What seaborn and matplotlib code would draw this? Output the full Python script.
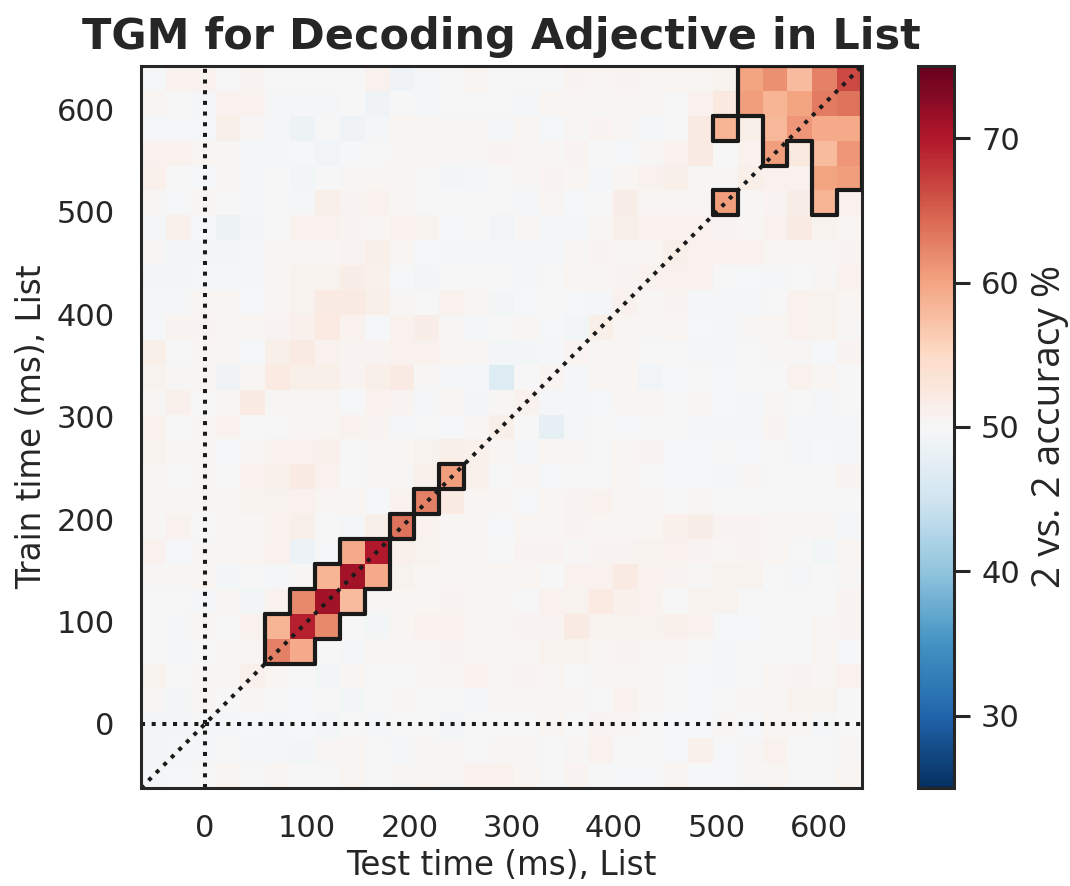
import numpy as np
import pandas as pd
import matplotlib
matplotlib.use("Agg")
import matplotlib.pyplot as plt
from matplotlib.collections import LineCollection
import seaborn as sns

# time grid (ms): outer edges of the 29 x 29 bins
t_first, t_last = -62.5, 642.5
n_bins = 29
tick_ms = [0, 100, 200, 300, 400, 500, 600]
cbar_ticks = [30, 40, 50, 60, 70]

# 2 vs. 2 accuracy (%), rows = train time from latest (top) to earliest,
# columns = test time from earliest to latest
acc_rows = [
    [49.7, 51, 51, 50, 50.7, 50, 50, 50, 50, 51, 49, 49.5, 50, 50.5, 50, 50, 50, 50.7, 50.5, 50.7, 50.5, 50.5, 50.5, 50.8, 60, 61.5, 58, 62.5, 66.5],
    [50.5, 50, 49.5, 51, 51, 49.5, 49.5, 49.5, 50, 49, 50, 49.5, 50, 50, 50, 49.5, 50.5, 50.5, 50.3, 50.5, 50.5, 50, 51, 52.5, 60.5, 58.5, 60, 63, 63.5],
    [49.7, 49.7, 49.8, 51.5, 50.3, 49.5, 48.8, 50, 49, 49.5, 50.5, 50.3, 50.3, 50.3, 49.5, 50.5, 49.7, 50.3, 50.7, 50.3, 49.5, 50, 52, 58.5, 51.5, 58.3, 61, 59.5, 59.5],
    [51, 51, 50.5, 50.3, 49.5, 49.5, 49.7, 49.2, 49.8, 50, 50.5, 50.5, 50.3, 50.3, 50.7, 50.5, 50.3, 50.7, 50, 49.7, 50.3, 51, 52, 50, 51, 60.5, 52.5, 58, 61],
    [51.3, 50, 49.7, 50.5, 49.5, 50, 49.3, 50, 50.3, 50.5, 50.5, 50, 49.3, 49.5, 50, 50.3, 50.7, 50.5, 49.6, 50.5, 51, 51.5, 50.3, 50.3, 51.5, 51, 51, 60, 60.5],
    [50.3, 49.8, 50.5, 50, 49.5, 50, 49.5, 51.5, 50.7, 51, 50.3, 50, 50, 50, 50, 49.5, 50.5, 49.7, 50, 51.7, 50.5, 50.5, 50.5, 60.5, 50.3, 50.7, 51.7, 58.5, 51],
    [49.6, 51.3, 49.7, 48.7, 49.3, 50, 51, 51, 50.6, 50.5, 51, 50.8, 49.7, 50, 49.2, 50.3, 49.5, 49.5, 50.3, 51.5, 51, 51, 51, 50.7, 50.5, 51, 52, 50.8, 50.5],
    [50.3, 49.3, 49.3, 49.3, 49.5, 50.5, 50.5, 50.5, 50.7, 51.5, 50.5, 49.8, 49.5, 49.5, 49.5, 49.5, 49.5, 50.3, 50.7, 50.5, 50.5, 51.5, 51, 51, 51, 50.5, 50.3, 50.5, 50.7],
    [49.3, 49.3, 49.5, 49.5, 49.5, 50.5, 50.8, 50.8, 51.7, 51.3, 49.8, 49.3, 50, 50, 50, 49.5, 50, 50.5, 50.5, 50.7, 51, 51, 51, 50, 49.8, 49.6, 50, 50.3, 51],
    [49.5, 49.5, 50.5, 50.5, 49.8, 50.5, 50.8, 52, 52, 51.5, 50.3, 50, 51, 50.5, 49.3, 49.7, 50, 49.7, 49.5, 51, 50.3, 50.7, 49.6, 49.5, 49.5, 50, 51, 50.8, 50.5],
    [49.7, 50.7, 50.7, 50.3, 50.5, 50.7, 51.3, 52.3, 51, 49.8, 51, 51.7, 50.3, 49.5, 50, 50.2, 49.7, 49.3, 51.5, 50.5, 50.3, 50.5, 49.7, 49.5, 50.2, 50.5, 51, 50.8, 50.3],
    [51.5, 50, 50.5, 50.5, 49.8, 51.5, 52, 51, 50.7, 50.7, 51, 51, 50.5, 50.3, 49.3, 49.3, 49.5, 50.7, 50.3, 50.5, 50, 50, 49.5, 49.5, 50, 50.3, 50.3, 49.8, 50.7],
    [50.8, 50.3, 50.5, 49, 50.5, 52.3, 51.5, 51.5, 50.7, 51.5, 52, 50.3, 49.5, 49.5, 46.5, 50, 50.7, 49.6, 50.5, 50.5, 49.2, 49.7, 50, 49.7, 50, 50, 51, 50.5, 50],
    [50.3, 51.3, 50, 50.3, 52, 50.3, 50.5, 50.5, 49.8, 51, 50.7, 49.5, 50.5, 49.3, 50.3, 51, 49.5, 49.6, 49.7, 50.3, 50.3, 50, 50.3, 49.7, 49.5, 50.3, 50, 49.6, 50],
    [51, 50, 50.5, 51, 50, 50, 50.5, 50.5, 51, 50.7, 49.5, 50, 49.7, 50.3, 51.5, 50, 47.8, 49.6, 50, 49.7, 50, 50, 49.6, 49.6, 49.6, 50.7, 49.5, 49.5, 49.5],
    [50.8, 50.3, 50.2, 49.7, 50.3, 51, 51, 51.3, 50, 50.3, 50.5, 50.8, 51.5, 51.3, 50.5, 49.5, 50.5, 50.2, 50, 50.5, 50.7, 49.8, 49.8, 50, 49.8, 50, 49.6, 49.8, 49.5],
    [50.3, 50, 50.5, 50, 51, 51.3, 52, 51, 50, 50.3, 50.3, 51.3, 60.5, 51.3, 50, 50.5, 49.7, 50, 50, 50.5, 50, 49.8, 49.7, 49.5, 50.3, 50, 50, 50, 50.7],
    [50.2, 50.5, 50.5, 50.3, 50.8, 50.8, 51, 50.5, 50.5, 49.7, 51, 62.5, 52, 50.5, 50.3, 49.8, 50.5, 50.7, 51, 50.3, 50.3, 50, 50.5, 50, 50, 50, 50, 50, 50],
    [50.3, 51, 50, 50.3, 50.3, 51, 51.5, 50, 49.5, 51.5, 63.5, 51, 50.3, 50.3, 49.7, 50.5, 50.5, 50.7, 50.5, 50.5, 50.5, 51.2, 51.7, 50.7, 50.7, 50.5, 50.3, 50.3, 49.6],
    [51, 49.8, 50.3, 50.3, 50.5, 51, 48.5, 49.8, 59.5, 70, 51.3, 50.8, 50.3, 50.3, 50, 50.7, 50.7, 50.2, 50.7, 50.7, 50.8, 51, 50.7, 50.5, 50.7, 50.5, 50, 49.3, 50.5],
    [50.3, 50.3, 50.5, 49.3, 50, 49.5, 50.3, 58.5, 71, 59.5, 50.8, 50.5, 50.5, 50.5, 50.5, 50.5, 50, 51, 51, 52, 51, 50.7, 50.3, 50.8, 50.8, 50, 49.5, 50, 50.3],
    [50, 50, 49.5, 50.3, 49.3, 51, 62, 71, 58, 50.3, 50.5, 50.5, 50.7, 50.5, 50.5, 50, 51, 50.8, 52.3, 51.3, 51, 50, 50.8, 50.8, 50, 50, 50, 50, 50.7],
    [50, 49.5, 50.5, 50, 51, 58.5, 69.5, 62, 50, 49.3, 50.5, 51, 51, 50.5, 50.5, 50.7, 50.7, 52, 50.8, 50.8, 50.8, 51.3, 51, 49.7, 49.8, 50, 50, 50.5, 50.7],
    [50, 49.5, 50, 50.3, 50.3, 62.5, 59.5, 50, 49.5, 50.5, 50.5, 50.5, 50.7, 50.5, 50.5, 50.3, 50.8, 50.8, 50.5, 50.7, 50.5, 50.3, 50, 49.5, 50, 50, 50, 50.5, 49.8],
    [50.8, 50, 50.3, 50.3, 51.3, 50.5, 50, 49.3, 50.5, 50, 50, 50.5, 50.3, 51, 50.3, 50.7, 50.5, 50, 50.3, 50.5, 50.3, 50, 49.7, 49.5, 50, 50.5, 50.7, 50.5, 51],
    [50.3, 49.3, 50.5, 50, 50.2, 50, 49.8, 50, 49.3, 50, 50.3, 50, 50, 49.5, 50.3, 50.3, 50.3, 50.3, 50, 51, 50.5, 50, 49.7, 50, 50.5, 50.3, 50.8, 50.8, 50],
    [49.3, 49.3, 49.5, 49.5, 49.8, 49.5, 49.8, 49.3, 50, 49.6, 50, 50, 49.3, 50, 50, 50, 50.5, 50, 50.7, 50.5, 50, 49.7, 49.8, 50.3, 49.8, 50.5, 50.5, 49.5, 50],
    [49.3, 49.6, 49.6, 50, 49.6, 49.6, 49.3, 50.3, 50.5, 50, 49.5, 50.3, 50.3, 50, 50.3, 50.3, 50, 50.3, 51, 50, 50, 49.8, 51.3, 49.7, 50.3, 51, 50, 50, 50.3],
    [49.5, 49.8, 50, 50.5, 50, 50.5, 50, 50, 50.5, 50, 50.3, 50.5, 50.3, 51, 51, 50.5, 50, 50.7, 50, 49.8, 49.7, 50.5, 49.8, 49.8, 50.3, 50.5, 50, 50, 50.5],
]

# significant cells (row from top, column from left)
sig_cells = [
    (0, 24), (0, 25), (0, 26), (0, 27), (0, 28),
    (1, 24), (1, 25), (1, 26), (1, 27), (1, 28),
    (2, 23), (2, 25), (2, 26), (2, 27), (2, 28),
    (3, 25), (3, 27), (3, 28),
    (4, 27), (4, 28),
    (5, 23), (5, 27),
    (16, 12), (17, 11), (18, 10),
    (19, 8), (19, 9),
    (20, 7), (20, 8), (20, 9),
    (21, 6), (21, 7), (21, 8),
    (22, 5), (22, 6), (22, 7),
    (23, 5), (23, 6),
]

bin_ms = (t_last - t_first) / n_bins
test_ms = t_first + bin_ms * (np.arange(n_bins) + 0.5)
train_ms = test_ms[::-1]
df = pd.DataFrame(acc_rows, index=np.round(train_ms, 1), columns=np.round(test_ms, 1))


def xpos(t):
    return (t - t_first) / bin_ms


def ypos(t):
    return (t_last - t) / bin_ms


sns.set_theme(style="white", context="talk")
W, H = 1070, 886
fig = plt.figure(figsize=(W / 100, H / 100), dpi=100)
ax = fig.add_axes([141 / W, (H - 788) / H, 721 / W, 722 / H])
cax = fig.add_axes([918 / W, (H - 788) / H, 36 / W, 722 / H])

sns.heatmap(df, ax=ax, cbar_ax=cax, cmap="RdBu_r", vmin=25, vmax=75,
            xticklabels=False, yticklabels=False)

# reference lines: stimulus onset and diagonal
ax.axhline(ypos(0), color="k", ls=":", lw=2.9)
ax.axvline(xpos(0), color="k", ls=":", lw=2.9)
ax.plot([xpos(t_first), xpos(t_last)], [ypos(t_first), ypos(t_last)],
        color="k", ls=":", lw=2.9)

# outline of significant cells
sig = set(sig_cells)
segs = []
for r, c in sig_cells:
    if (r - 1, c) not in sig:
        segs.append([(c, r), (c + 1, r)])
    if (r + 1, c) not in sig:
        segs.append([(c, r + 1), (c + 1, r + 1)])
    if (r, c - 1) not in sig:
        segs.append([(c, r), (c, r + 1)])
    if (r, c + 1) not in sig:
        segs.append([(c + 1, r), (c + 1, r + 1)])
ax.add_collection(LineCollection(segs, colors="k", linewidths=3.0,
                                 capstyle="round", joinstyle="round", zorder=5))

ax.set_xticks([xpos(t) for t in tick_ms])
ax.set_xticklabels(tick_ms, rotation=0)
ax.set_yticks([ypos(t) for t in tick_ms])
ax.set_yticklabels(tick_ms, rotation=0)
ax.tick_params(length=0, labelsize=22, pad=19, colors=".15")
for sp in ax.spines.values():
    sp.set_visible(True)
    sp.set_linewidth(2.2)
    sp.set_color(".15")

ax.set_xlabel("Test time (ms), List", fontsize=23.5, labelpad=4)
ax.set_ylabel("Train time (ms), List", fontsize=23.5, labelpad=6)
ax.set_title("TGM for Decoding Adjective in List", fontsize=31,
             fontweight="bold", pad=12)

cbar = ax.collections[0].colorbar
cbar.set_ticks(cbar_ticks)
cbar.outline.set_visible(True)
cbar.outline.set_linewidth(2.2)
cbar.outline.set_edgecolor(".15")
cax.tick_params(length=11.5, width=2.2, labelsize=22, pad=8, right=True,
                colors=".15")
cbar.set_label("2 vs. 2 accuracy %", fontsize=28, family="Open Sans",
               labelpad=8)

fig.savefig("out.png", dpi=100)
